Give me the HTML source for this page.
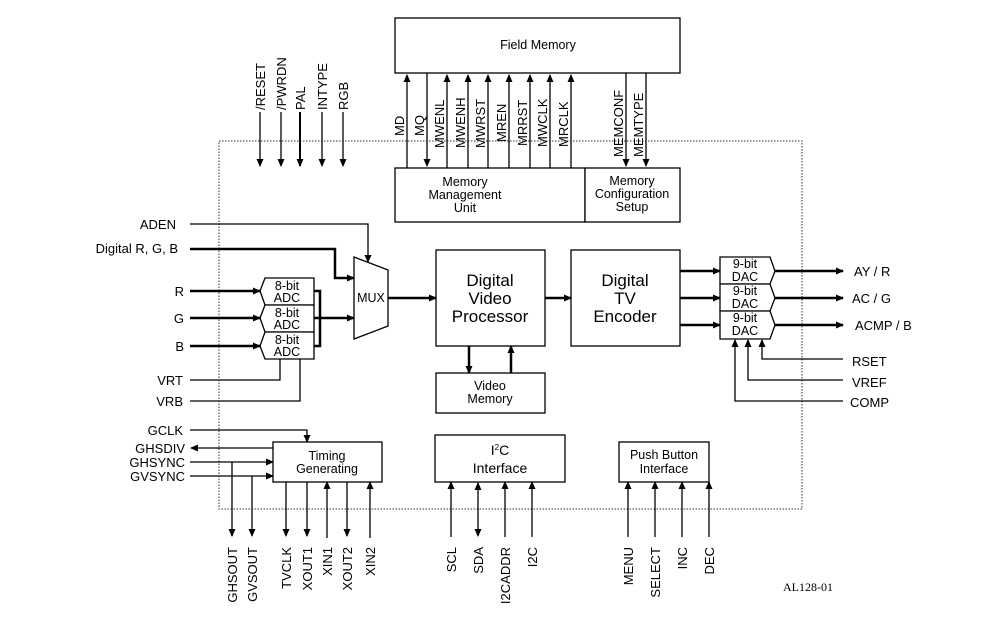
<!DOCTYPE html>
<html><head><meta charset="utf-8"><style>body{margin:0;background:#fff}svg{display:block}text{font-family:"Liberation Sans",Arial,sans-serif;fill:#000}</style></head>
<body>
<svg width="1004" height="618" viewBox="0 0 1004 618" xmlns="http://www.w3.org/2000/svg">
<defs>
<marker id="a" markerWidth="8" markerHeight="8" refX="7" refY="4" orient="auto" markerUnits="userSpaceOnUse"><path d="M0,0.5 L8,4 L0,7.5 Z" fill="#000"/></marker>
<marker id="s" markerWidth="8" markerHeight="8" refX="1" refY="4" orient="auto" markerUnits="userSpaceOnUse"><path d="M8,0.5 L0,4 L8,7.5 Z" fill="#000"/></marker>
</defs>
<rect x="219" y="141" width="583" height="368" fill="none" stroke="#333" stroke-width="1" stroke-dasharray="1.5,1.5"/>
<g fill="#fff" stroke="#000" stroke-width="1.3">
<rect x="395" y="18" width="285" height="55"/>
<rect x="395" y="168" width="190" height="54"/>
<rect x="585" y="168" width="95" height="54"/>
<rect x="436" y="250" width="109" height="96"/>
<rect x="571" y="250" width="109" height="96"/>
<rect x="436" y="373" width="109" height="40"/>
<rect x="273" y="442" width="109" height="40"/>
<rect x="435" y="435" width="130" height="47"/>
<rect x="619" y="442" width="90" height="40"/>
<path d="M354,257 L388,270 L388,326 L354,339 Z"/>
<path d="M265,278 L314,278 L314,305 L265,305 L260,291 Z"/>
<path d="M265,305 L314,305 L314,332 L265,332 L260,318 Z"/>
<path d="M265,332 L314,332 L314,359 L265,359 L260,346 Z"/>
<path d="M720,257 L770,257 L775,271 L770,284 L720,284 Z"/>
<path d="M720,284 L770,284 L775,298 L770,311 L720,311 Z"/>
<path d="M720,311 L770,311 L775,325 L770,339 L720,339 Z"/>
</g>
<g font-size="12.5" text-anchor="middle">
<text x="538" y="49">Field Memory</text>
<text x="465" y="186">Memory</text><text x="465" y="199">Management</text><text x="465" y="212">Unit</text>
<text x="632" y="185">Memory</text><text x="632" y="198">Configuration</text><text x="632" y="211">Setup</text>
<text x="371" y="302">MUX</text>
<text x="287" y="290">8-bit</text><text x="287" y="302">ADC</text>
<text x="287" y="317">8-bit</text><text x="287" y="329">ADC</text>
<text x="287" y="344">8-bit</text><text x="287" y="356">ADC</text>
<text x="745" y="268">9-bit</text><text x="745" y="281">DAC</text>
<text x="745" y="295">9-bit</text><text x="745" y="308">DAC</text>
<text x="745" y="322">9-bit</text><text x="745" y="335">DAC</text>
<text x="490" y="390">Video</text><text x="490" y="403">Memory</text>
<text x="327" y="460">Timing</text><text x="327" y="473">Generating</text>
<text x="664" y="459">Push Button</text><text x="664" y="473">Interface</text>
<text x="500" y="455" font-size="14">I<tspan font-size="8" dy="-5">2</tspan><tspan dy="5">C</tspan></text>
<text x="500" y="473" font-size="14">Interface</text>
</g>
<g font-size="17" text-anchor="middle">
<text x="490" y="286">Digital</text><text x="490" y="304">Video</text><text x="490" y="322">Processor</text>
<text x="625" y="286">Digital</text><text x="625" y="304">TV</text><text x="625" y="322">Encoder</text>
</g>
<g stroke="#000" stroke-width="1.3" fill="none">
<line x1="407" y1="168" x2="407" y2="75" marker-end="url(#a)"/>
<line x1="427" y1="73" x2="427" y2="166" marker-end="url(#a)"/>
<line x1="447" y1="168" x2="447" y2="75" marker-end="url(#a)"/>
<line x1="468" y1="168" x2="468" y2="75" marker-end="url(#a)"/>
<line x1="488" y1="168" x2="488" y2="75" marker-end="url(#a)"/>
<line x1="509" y1="168" x2="509" y2="75" marker-end="url(#a)"/>
<line x1="530" y1="168" x2="530" y2="75" marker-end="url(#a)"/>
<line x1="550" y1="168" x2="550" y2="75" marker-end="url(#a)"/>
<line x1="571" y1="168" x2="571" y2="75" marker-end="url(#a)"/>
<line x1="626" y1="73" x2="626" y2="166" marker-end="url(#a)"/>
<line x1="646" y1="73" x2="646" y2="166" marker-end="url(#a)"/>
<line x1="260" y1="112" x2="260" y2="166" marker-end="url(#a)"/>
<line x1="281" y1="112" x2="281" y2="166" marker-end="url(#a)"/>
<line x1="300" y1="112" x2="300" y2="166" marker-end="url(#a)" stroke-width="2"/>
<line x1="322" y1="112" x2="322" y2="166" marker-end="url(#a)"/>
<line x1="343" y1="112" x2="343" y2="166" marker-end="url(#a)"/>
<polyline points="190,224 368,224 368,262" marker-end="url(#a)"/>
<polyline points="190,249 335,249 335,278 354,278" stroke-width="2.5" marker-end="url(#a)"/>
<line x1="190" y1="291" x2="260" y2="291" stroke-width="2.5" marker-end="url(#a)"/>
<line x1="190" y1="318" x2="260" y2="318" stroke-width="2.5" marker-end="url(#a)"/>
<line x1="190" y1="346" x2="260" y2="346" stroke-width="2.5" marker-end="url(#a)"/>
<polyline points="314,291 320,291 320,346 314,346" stroke-width="2.5"/>
<line x1="314" y1="318" x2="354" y2="318" stroke-width="2.5" marker-end="url(#a)"/>
<polyline points="190,380 280,380 280,359"/>
<polyline points="190,401 300,401 300,359"/>
<line x1="388" y1="298" x2="436" y2="298" stroke-width="2.5" marker-end="url(#a)"/>
<line x1="545" y1="298" x2="571" y2="298" stroke-width="2.5" marker-end="url(#a)"/>
<line x1="469" y1="346" x2="469" y2="373" stroke-width="2.5" marker-end="url(#a)"/>
<line x1="511" y1="373" x2="511" y2="346" stroke-width="2.5" marker-end="url(#a)"/>
<line x1="680" y1="271" x2="720" y2="271" stroke-width="2.5" marker-end="url(#a)"/>
<line x1="680" y1="298" x2="720" y2="298" stroke-width="2.5" marker-end="url(#a)"/>
<line x1="680" y1="325" x2="720" y2="325" stroke-width="2.5" marker-end="url(#a)"/>
<line x1="775" y1="271" x2="843" y2="271" stroke-width="2.5" marker-end="url(#a)"/>
<line x1="775" y1="298" x2="843" y2="298" stroke-width="2.5" marker-end="url(#a)"/>
<line x1="775" y1="325" x2="843" y2="325" stroke-width="2.5" marker-end="url(#a)"/>
<polyline points="843,359 762,359 762,340" marker-end="url(#a)"/>
<polyline points="843,380 748,380 748,340" marker-end="url(#a)"/>
<polyline points="843,401 735,401 735,340" marker-end="url(#a)"/>
<polyline points="190,430 307,430 307,442" marker-end="url(#a)"/>
<line x1="273" y1="448" x2="191" y2="448" marker-end="url(#a)"/>
<line x1="190" y1="462" x2="273" y2="462" marker-end="url(#a)"/>
<line x1="190" y1="476" x2="273" y2="476" marker-end="url(#a)"/>
<line x1="232" y1="462" x2="232" y2="536" marker-end="url(#a)"/>
<line x1="252" y1="476" x2="252" y2="536" marker-end="url(#a)"/>
<line x1="286" y1="482" x2="286" y2="536" marker-end="url(#a)"/>
<line x1="307" y1="482" x2="307" y2="536" marker-end="url(#a)"/>
<line x1="327" y1="538" x2="327" y2="482" marker-end="url(#a)"/>
<line x1="347" y1="482" x2="347" y2="536" marker-end="url(#a)"/>
<line x1="370" y1="538" x2="370" y2="482" marker-end="url(#a)"/>
<line x1="451" y1="537" x2="451" y2="482" marker-end="url(#a)"/>
<line x1="478" y1="536" x2="478" y2="483" marker-end="url(#a)" marker-start="url(#s)"/>
<line x1="505" y1="537" x2="505" y2="482" marker-end="url(#a)"/>
<line x1="532" y1="537" x2="532" y2="482" marker-end="url(#a)"/>
<line x1="628" y1="537" x2="628" y2="482" marker-end="url(#a)"/>
<line x1="655" y1="537" x2="655" y2="482" marker-end="url(#a)"/>
<line x1="682" y1="537" x2="682" y2="482" marker-end="url(#a)"/>
<line x1="709" y1="537" x2="709" y2="482" marker-end="url(#a)"/>
</g>
<g font-size="13">
<g text-anchor="end">
<text x="176" y="229">ADEN</text><text x="178" y="253">Digital R, G, B</text>
<text x="184" y="296">R</text><text x="184" y="323">G</text><text x="184" y="351">B</text>
<text x="183" y="385">VRT</text><text x="183" y="406">VRB</text>
<text x="183" y="435">GCLK</text><text x="185" y="453">GHSDIV</text><text x="185" y="467">GHSYNC</text><text x="185" y="481">GVSYNC</text>
</g>
<text x="854" y="276">AY / R</text><text x="852" y="303">AC / G</text><text x="855" y="330">ACMP / B</text>
<text x="852" y="366">RSET</text><text x="852" y="387">VREF</text><text x="850" y="407">COMP</text>
<g text-anchor="start">
<text transform="translate(265,110) rotate(-90)">/RESET</text>
<text transform="translate(286,110) rotate(-90)">/PWRDN</text>
<text transform="translate(305,110) rotate(-90)">PAL</text>
<text transform="translate(327,110) rotate(-90)">INTYPE</text>
<text transform="translate(348,110) rotate(-90)">RGB</text>
<text transform="translate(404,136) rotate(-90)">MD</text>
<text transform="translate(424,136) rotate(-90)">MQ</text>
<text transform="translate(444,148) rotate(-90)">MWENL</text>
<text transform="translate(465,148) rotate(-90)">MWENH</text>
<text transform="translate(485,148) rotate(-90)">MWRST</text>
<text transform="translate(506,142) rotate(-90)">MREN</text>
<text transform="translate(527,146) rotate(-90)">MRRST</text>
<text transform="translate(547,147) rotate(-90)">MWCLK</text>
<text transform="translate(568,147) rotate(-90)">MRCLK</text>
<text transform="translate(623,157) rotate(-90)">MEMCONF</text>
<text transform="translate(643,157) rotate(-90)">MEMTYPE</text>
</g>
<g text-anchor="end">
<text transform="translate(237,547) rotate(-90)">GHSOUT</text>
<text transform="translate(257,547) rotate(-90)">GVSOUT</text>
<text transform="translate(291,547) rotate(-90)">TVCLK</text>
<text transform="translate(312,547) rotate(-90)">XOUT1</text>
<text transform="translate(332,547) rotate(-90)">XIN1</text>
<text transform="translate(352,547) rotate(-90)">XOUT2</text>
<text transform="translate(375,547) rotate(-90)">XIN2</text>
<text transform="translate(456,547) rotate(-90)">SCL</text>
<text transform="translate(483,547) rotate(-90)">SDA</text>
<text transform="translate(510,547) rotate(-90)">I2CADDR</text>
<text transform="translate(537,547) rotate(-90)">I2C</text>
<text transform="translate(633,547) rotate(-90)">MENU</text>
<text transform="translate(660,547) rotate(-90)">SELECT</text>
<text transform="translate(687,547) rotate(-90)">INC</text>
<text transform="translate(714,547) rotate(-90)">DEC</text>
</g>
</g>
<text x="783" y="591" font-size="12" style="font-family:'Liberation Serif',serif">AL128-01</text>
</svg>
</body></html>
